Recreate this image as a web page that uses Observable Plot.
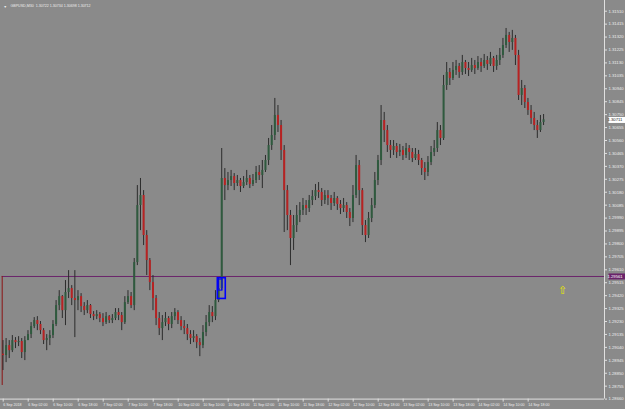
<!DOCTYPE html>
<html>
<head>
<meta charset="utf-8">
<script src="https://cdn.jsdelivr.net/npm/d3@7"></script>
<script src="https://cdn.jsdelivr.net/npm/@observablehq/plot@0.6"></script>
<style>
html,body{margin:0;padding:0;background:#8a8a8a;}
</style>
</head>
<body>
<div id="chart"></div>
<script>
const title = "GBPUSD,M30  1.30722 1.30734 1.30698 1.30712";
const firstOpen = 1.28990;
const closes = [
1.28980,1.29053,1.29016,1.29090,1.29075,1.29083,1.29002,1.29090,1.29134,1.29193,
1.29237,1.29208,1.29163,1.29090,1.29105,1.29127,1.29208,1.29347,1.29413,1.29310,
1.29443,1.29472,1.29399,1.29384,1.29413,1.29340,1.29310,1.29347,1.29281,1.29266,
1.29281,1.29252,1.29222,1.29266,1.29237,1.29252,1.29296,1.29274,1.29222,1.29369,
1.29413,1.29347,1.29663,1.30082,1.30156,1.29862,1.29678,1.29516,1.29399,1.29252,
1.29178,1.29222,1.29252,1.29208,1.29266,1.29296,1.29237,1.29193,1.29178,1.29134,
1.29105,1.29119,1.29075,1.29053,1.29149,1.29222,1.29296,1.29266,1.29384,1.29472,
1.30281,1.30229,1.30266,1.30295,1.30244,1.30266,1.30222,1.30251,1.30281,1.30237,
1.30266,1.30325,1.30303,1.30340,1.30413,1.30523,1.30597,1.30744,1.30670,1.30487,
1.30192,1.30009,1.29840,1.29935,1.30009,1.30046,1.30082,1.30060,1.30119,1.30148,
1.30192,1.30178,1.30119,1.30156,1.30134,1.30097,1.30134,1.30090,1.30060,1.30082,
1.30031,1.29987,1.30156,1.30376,1.30192,1.29935,1.29862,1.29987,1.30082,1.30266,
1.30413,1.30707,1.30633,1.30523,1.30487,1.30516,1.30472,1.30487,1.30450,1.30501,
1.30472,1.30428,1.30457,1.30413,1.30354,1.30325,1.30398,1.30472,1.30501,1.30633,
1.30575,1.30964,1.31060,1.31016,1.31075,1.31104,1.31060,1.31133,1.31089,1.31075,
1.31111,1.31089,1.31133,1.31104,1.31148,1.31119,1.31163,1.31104,1.31148,1.31185,
1.31258,1.31332,1.31280,1.31310,1.31185,1.30891,1.30942,1.30839,1.30781,1.30722,
1.30670,1.30633,1.30692,1.30712
];
const highs = [
1.29090,1.29105,1.29090,1.29127,1.29112,1.29119,1.29105,1.29119,1.29163,1.29222,
1.29259,1.29266,1.29230,1.29178,1.29134,1.29163,1.29237,1.29384,1.29457,1.29421,
1.29531,1.29604,1.29494,1.29604,1.29457,1.29435,1.29369,1.29384,1.29355,1.29303,
1.29310,1.29296,1.29288,1.29296,1.29274,1.29281,1.29325,1.29325,1.29296,1.29413,
1.29457,1.29443,1.29693,1.30229,1.30281,1.30192,1.29898,1.29693,1.29568,1.29421,
1.29296,1.29274,1.29296,1.29266,1.29296,1.29325,1.29310,1.29266,1.29237,1.29208,
1.29163,1.29163,1.29134,1.29105,1.29200,1.29274,1.29347,1.29340,1.29457,1.29546,
1.30501,1.30354,1.30325,1.30340,1.30317,1.30303,1.30281,1.30295,1.30340,1.30303,
1.30310,1.30369,1.30376,1.30413,1.30450,1.30575,1.30670,1.30869,1.30817,1.30707,
1.30523,1.30229,1.30046,1.30009,1.30082,1.30104,1.30134,1.30119,1.30156,1.30192,
1.30237,1.30251,1.30207,1.30192,1.30192,1.30156,1.30178,1.30148,1.30119,1.30134,
1.30104,1.30060,1.30229,1.30450,1.30413,1.30207,1.29972,1.30031,1.30134,1.30325,
1.30450,1.30817,1.30766,1.30670,1.30560,1.30560,1.30538,1.30531,1.30516,1.30538,
1.30523,1.30501,1.30501,1.30487,1.30428,1.30398,1.30442,1.30516,1.30560,1.30692,
1.30670,1.31038,1.31133,1.31089,1.31133,1.31148,1.31126,1.31185,1.31148,1.31133,
1.31163,1.31148,1.31177,1.31163,1.31192,1.31177,1.31207,1.31177,1.31185,1.31236,
1.31310,1.31383,1.31354,1.31369,1.31332,1.31222,1.31001,1.30964,1.30869,1.30817,
1.30766,1.30707,1.30744,1.30751
];
const lows = [
1.28870,1.28928,1.28958,1.29002,1.29031,1.29046,1.28958,1.28943,1.29090,1.29105,
1.29178,1.29163,1.29134,1.29061,1.29016,1.29053,1.29105,1.29193,1.29310,1.29252,
1.29200,1.29399,1.29347,1.29112,1.29310,1.29296,1.29274,1.29288,1.29252,1.29237,
1.29244,1.29222,1.29193,1.29208,1.29215,1.29215,1.29237,1.29237,1.29163,1.29208,
1.29355,1.29325,1.29310,1.29641,1.29898,1.29788,1.29568,1.29457,1.29310,1.29200,
1.29127,1.29090,1.29193,1.29163,1.29178,1.29237,1.29208,1.29163,1.29134,1.29090,
1.29061,1.29075,1.29031,1.28972,1.29031,1.29119,1.29193,1.29222,1.29237,1.29369,
1.29457,1.30119,1.30192,1.30222,1.30192,1.30222,1.30178,1.30207,1.30229,1.30207,
1.30222,1.30244,1.30266,1.30207,1.30325,1.30376,1.30487,1.30560,1.30619,1.30413,
1.29884,1.29898,1.29641,1.29752,1.29884,1.29957,1.30009,1.30009,1.30031,1.30082,
1.30119,1.30134,1.30075,1.30090,1.30082,1.30046,1.30075,1.30046,1.30016,1.30031,
1.29987,1.29928,1.29957,1.30134,1.30082,1.29862,1.29810,1.29840,1.29957,1.30060,
1.30229,1.30376,1.30545,1.30472,1.30428,1.30450,1.30428,1.30442,1.30413,1.30428,
1.30413,1.30398,1.30413,1.30376,1.30303,1.30266,1.30295,1.30376,1.30442,1.30472,
1.30523,1.30560,1.30928,1.30964,1.31001,1.31038,1.31016,1.31038,1.31045,1.31030,
1.31060,1.31045,1.31075,1.31060,1.31089,1.31075,1.31104,1.31060,1.31075,1.31111,
1.31163,1.31236,1.31207,1.31222,1.31111,1.30854,1.30817,1.30795,1.30744,1.30678,
1.30633,1.30575,1.30619,1.30670
];
const yTicks = [
1.31510,1.31415,1.31320,1.31225,1.31130,1.31035,1.30940,1.30845,1.30750,1.30655,
1.30560,1.30465,1.30370,1.30275,1.30180,1.30085,1.29990,1.29895,1.29800,1.29705,
1.29610,1.29515,1.29420,1.29325,1.29230,1.29135,1.29040,1.28945,1.28850,1.28755,1.28660
];
const xTicks = [0,16,32,48,64,80,96,112,128,144,160,176,192,208,224,240,256,272,288,304,320,336];
const xLabels = ["6 Sep 2018","6 Sep 02:00","6 Sep 10:00","6 Sep 18:00","7 Sep 02:00","7 Sep 10:00",
"7 Sep 18:00","10 Sep 02:00","10 Sep 10:00","10 Sep 18:00","11 Sep 02:00","11 Sep 10:00","11 Sep 18:00",
"12 Sep 02:00","12 Sep 10:00","12 Sep 18:00","13 Sep 02:00","13 Sep 10:00","13 Sep 18:00",
"14 Sep 02:00","14 Sep 10:00","14 Sep 18:00"];
const barsVisible = 385.5;
const currentPrice = 1.30711;
const lineLevel = 1.29561;
const lineStartBar = 0;
const vLineLow = 1.28760;
const boxes = [
  {x1: 138, x2: 143.1, y1: 1.29548, y2: 1.29396, w: 1.6},
  {x1: 138.9, x2: 141, y1: 1.29538, y2: 1.29457, w: 1}
];
const arrows = [{bar: 358.6, price: 1.29457}];

const candles = closes.map((c, i) => ({
  bar: 2 * i + 0.5,
  open: i ? closes[i - 1] : firstOpen,
  high: highs[i], low: lows[i], close: c
}));

const BULL = "#2f5a3e", BEAR = "#b82222", WICK = "#2c2c2c";
const AXIS_FONT = 4.2, X_FONT = 3.6;

function priceBox(price, bg, fg) {
  return Plot.text([price], {
    y: d => d, frameAnchor: "right", dx: 3, textAnchor: "start",
    text: d => d.toFixed(5), fill: fg, fontSize: AXIS_FONT,
    render(index, scales, values, dims, context, next) {
      const g = next(index, scales, values, dims, context);
      const y = scales.y(price);
      const r = document.createElementNS("http://www.w3.org/2000/svg", "rect");
      r.setAttribute("x", dims.width - dims.marginRight + 1);
      r.setAttribute("y", y - 3);
      r.setAttribute("width", dims.marginRight - 1);
      r.setAttribute("height", 6);
      r.setAttribute("fill", bg);
      g.insertBefore(r, g.firstChild);
      return g;
    }
  });
}

const chart = Plot.plot({
  width: 625, height: 409,
  marginTop: 0, marginBottom: 10.4, marginLeft: 0, marginRight: 21,
  style: {background: "#8a8a8a", color: "#eeeeee", fontFamily: "'Liberation Sans', sans-serif", overflow: "visible"},
  x: {domain: [0, barsVisible], range: [1.7, 604], axis: null},
  y: {domain: [yTicks[yTicks.length - 1], yTicks[0]], range: [398.6, 10.7], axis: null},
  marks: [
    Plot.ruleY([lineLevel], {x1: lineStartBar, x2: barsVisible, stroke: "#6a236a", strokeWidth: 1}),
    Plot.ruleX([lineStartBar], {y1: lineLevel, y2: vLineLow, stroke: "#8b1515", strokeWidth: 1}),
    Plot.ruleX(candles, {x: "bar", y1: "low", y2: "high", stroke: WICK, strokeWidth: 1}),
    Plot.ruleX(candles, {x: "bar", y1: "open", y2: "close",
      stroke: d => d.close >= d.open ? BULL : BEAR, strokeWidth: 2}),
    Plot.rect(boxes, {x1: "x1", x2: "x2", y1: "y1", y2: "y2", fill: "none", stroke: "#0000ff", strokeWidth: d => d.w}),
    Plot.text(arrows, {x: "bar", y: "price", text: () => "\u21E7", fill: "#e6e600", fontSize: 11}),
    Plot.ruleX([barsVisible], {y1: yTicks[yTicks.length - 1], y2: 1.31655, stroke: "#e0e0e0"}),
    Plot.ruleY([yTicks[yTicks.length - 1]], {stroke: "#e0e0e0"}),
    Plot.axisY(yTicks, {anchor: "right", tickSize: 2, tickPadding: 2, fontSize: AXIS_FONT,
      tickFormat: d => d.toFixed(5), stroke: "#e0e0e0", fill: "#eeeeee"}),
    Plot.axisX(xTicks, {anchor: "bottom", tickSize: 3, tickPadding: 1, fontSize: X_FONT, textAnchor: "start", dx: 1,
      tickFormat: d => xLabels[xTicks.indexOf(d)], stroke: "#e0e0e0", fill: "#eeeeee"}),
    priceBox(lineLevel, "#6a236a", "#ffffff"),
    priceBox(currentPrice, "#ffffff", "#222222"),
    Plot.text([title], {frameAnchor: "top-left", dx: 10, dy: 4, textAnchor: "start", fontSize: X_FONT, fill: "#eeeeee"}),
    Plot.text(["\u25BC"], {frameAnchor: "top-left", dx: 3, dy: 4.5, textAnchor: "start", fontSize: 3.5, fill: "#eeeeee"})
  ]
});
document.getElementById("chart").appendChild(chart);
</script>
</body>
</html>
